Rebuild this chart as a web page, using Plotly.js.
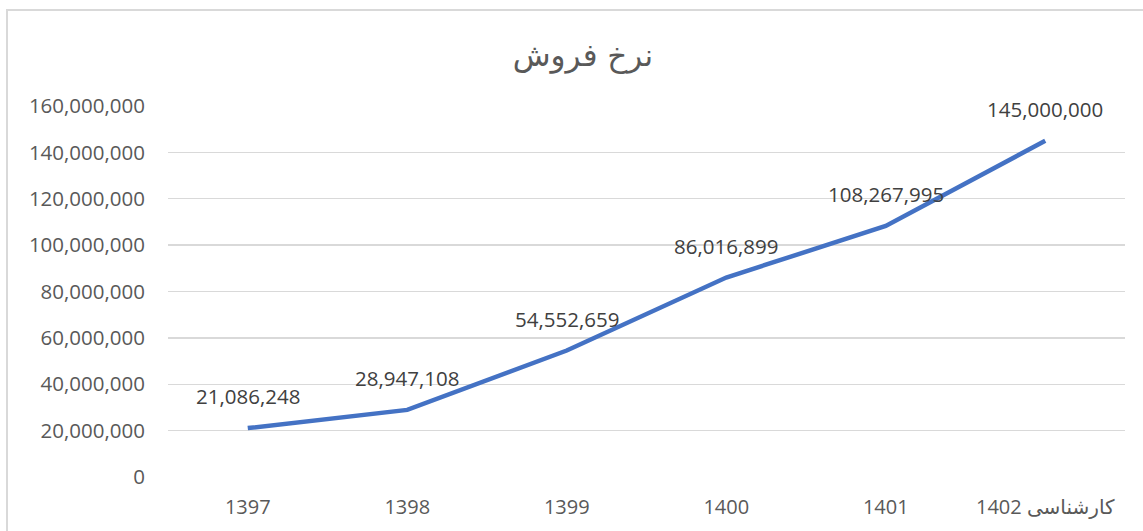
<!DOCTYPE html>
<html>
<head>
<meta charset="utf-8">
<script src="https://cdn.plot.ly/plotly-3.0.1.min.js"></script>
<style>
html,body{margin:0;padding:0;background:#fff;overflow:hidden;width:1143px;height:531px;}
#chart{position:absolute;left:0;top:0;width:1143px;height:531px;}
#frame{position:absolute;left:6px;top:9px;width:3000px;height:3000px;border:2px solid #d9d9d9;pointer-events:none;}
</style>
</head>
<body>
<div id="chart"></div>
<div id="frame"></div>
<script>
const categories = ["1397", "1398", "1399", "1400", "1401", "کارشناسی 1402"];
const values = [21086248, 28947108, 54552659, 86016899, 108267995, 145000000];
const yTickValues = [0, 20000000, 40000000, 60000000, 80000000, 100000000, 120000000, 140000000, 160000000];
const titleText = "نرخ فروش";

const fmt = v => v.toLocaleString('en-US');
const FONT = "'Open Sans', 'DejaVu Sans', sans-serif";

const trace = {
  x: categories,
  y: values,
  type: 'scatter',
  mode: 'lines',
  line: {color: '#4472C4', width: 4.5},
  hoverinfo: 'x+y'
};

const annotations = categories.map((c, i) => ({
  x: i, y: values[i], xref: 'x', yref: 'y',
  text: fmt(values[i]), showarrow: false,
  yshift: 32,
  font: {family: FONT, size: 20.5, color: '#404040'}
}));

const layout = {
  width: 1143, height: 531,
  margin: {l: 168, r: 18, t: 106, b: 54},
  paper_bgcolor: '#ffffff', plot_bgcolor: '#ffffff',
  showlegend: false,
  title: {text: titleText, x: 0.51, xref: 'container', xanchor: 'center', y: 0.103, yref: 'container', yanchor: 'middle',
          font: {family: "'DejaVu Sans', sans-serif", size: 31, color: '#595959'}},
  xaxis: {
    type: 'category', range: [-0.5, 5.5],
    showgrid: false, zeroline: false, showline: false, ticks: '',
    tickfont: {family: FONT, size: 20, color: '#595959'},
    ticklabelstandoff: 16, fixedrange: true
  },
  yaxis: {
    range: [0, 160000000], tickvals: yTickValues, ticktext: yTickValues.map(fmt),
    showgrid: true, gridcolor: '#d9d9d9', gridwidth: 1.3, zeroline: false, showline: false, ticks: '',
    tickfont: {family: FONT, size: 20.5, color: '#595959'},
    ticklabelstandoff: 22, fixedrange: true
  },
  annotations: annotations
};
layout.title.y = 1 - 55/531;

Plotly.newPlot('chart', [trace], layout, {displayModeBar: false, staticPlot: true});
</script>
</body>
</html>
